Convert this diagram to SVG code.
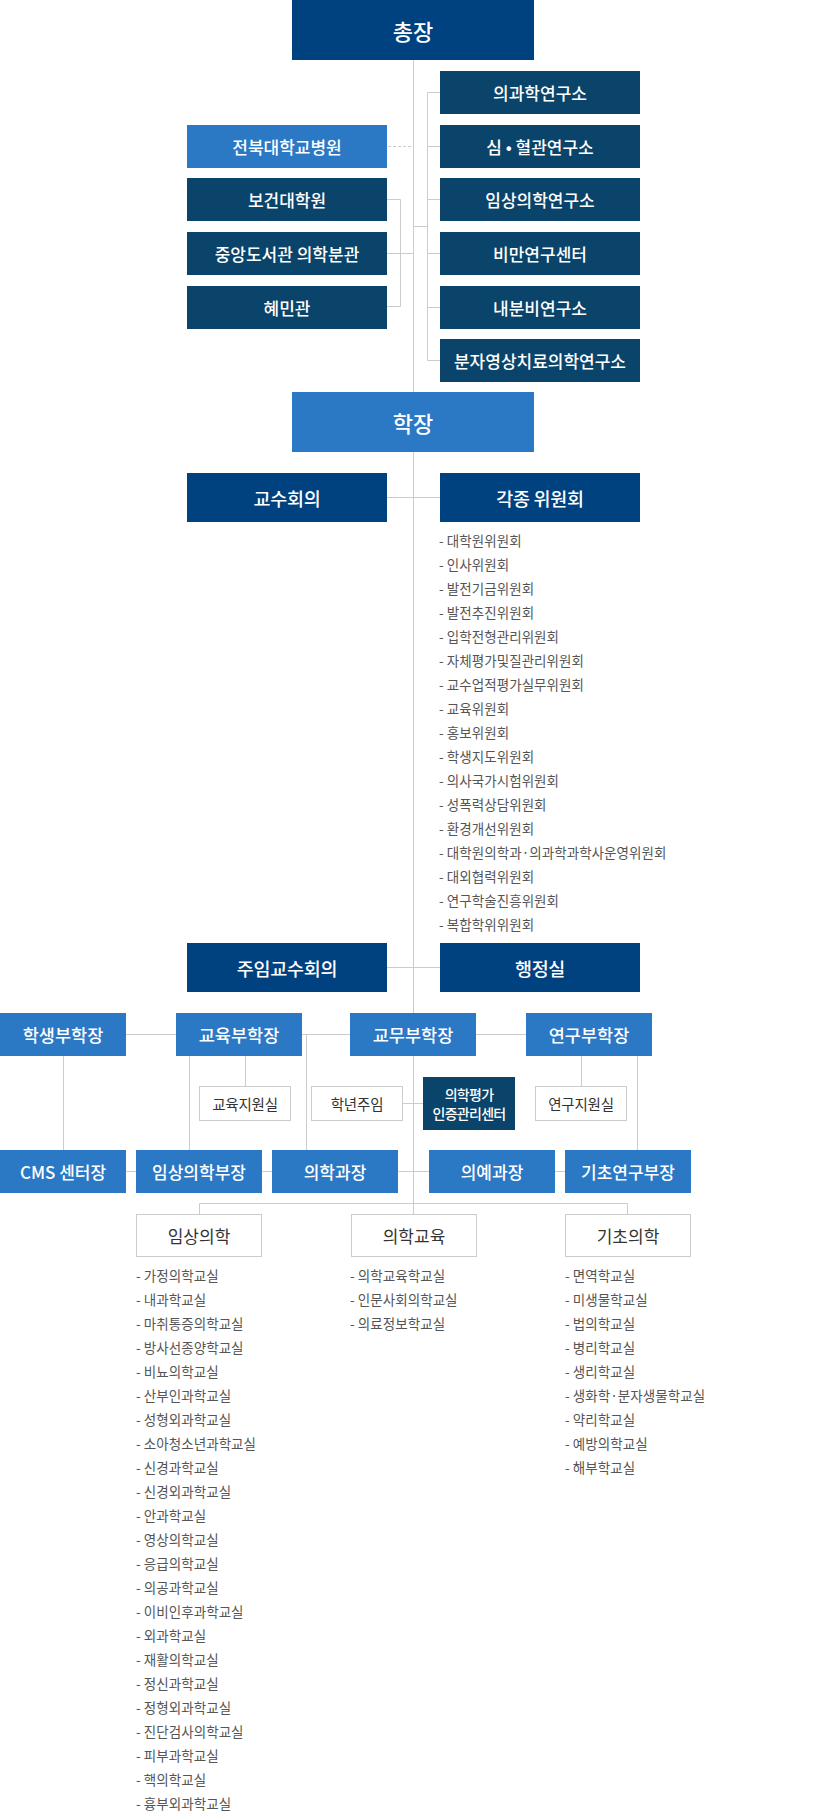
<svg xmlns="http://www.w3.org/2000/svg" width="827" height="1812" viewBox="0 0 827 1812">
<style>
text{font-family:"Noto Sans CJK KR","Noto Sans CJK SC",sans-serif;}
.c{fill:none;stroke:#cccccc;stroke-width:1;}
.d{fill:none;stroke:#cccccc;stroke-width:1;stroke-dasharray:3 2;}
.navy{fill:#00417f;}
.deep{fill:#0b446a;}
.blue{fill:#2b78c5;}
.wbox{fill:#ffffff;stroke:#cccccc;stroke-width:1;}
.t22{fill:#fff;font-size:22px;font-weight:500;text-anchor:middle;dominant-baseline:central;}
.t18{fill:#fff;font-size:18.5px;font-weight:500;text-anchor:middle;dominant-baseline:central;letter-spacing:-0.3px;}
.t17{fill:#fff;font-size:17px;font-weight:500;text-anchor:middle;dominant-baseline:central;}
.t16{fill:#fff;font-size:17.5px;font-weight:500;text-anchor:middle;dominant-baseline:central;}
.t14w{fill:#fff;font-size:14px;font-weight:500;text-anchor:middle;dominant-baseline:central;letter-spacing:-0.7px;}
.t14{fill:#333;font-size:14.5px;text-anchor:middle;dominant-baseline:central;letter-spacing:-0.2px;}
.t16d{fill:#333;font-size:17px;text-anchor:middle;dominant-baseline:central;}
.li{fill:#555;font-size:13.5px;letter-spacing:0.05px;}
</style>

<g id="connectors">
<path class="c" d="M413.5 60V1214"/>
<path class="c" d="M413.5 226.5H427.5M427.5 92.5V360.5M427.5 92.5H440M427.5 146.5H440M427.5 199.5H440M427.5 253.5H440M427.5 307.5H440M427.5 360.5H440"/>
<path class="c" d="M387 199.5H400.5V306.5H387M387 253.5H400.5M400.5 253.5H413.5"/>
<path class="d" d="M388 146.5H413"/>
<path class="c" d="M387 497.5H440"/>
<path class="c" d="M387 967.5H440"/>
<path class="c" d="M126 1034.5H526"/>
<path class="c" d="M63.5 1056V1150M189.5 1056V1150M245.5 1056V1086M306.5 1034.5V1150M581.5 1056V1086M637.5 1056V1150"/>
<path class="c" d="M402 1103.5H423"/>
<path class="c" d="M126 1171.5H565"/>
<path class="c" d="M199.5 1214V1203.5H627.5V1214"/>
</g>

<g id="president"><rect class="navy" x="292" y="0" width="242" height="60"/><text class="t22" x="413" y="30">총장</text></g>

<g id="inst1"><rect class="deep" x="440" y="71" width="200" height="43"/><text class="t17" x="540" y="92.5">의과학연구소</text></g>
<g id="inst2"><rect class="deep" x="440" y="125" width="200" height="43"/><text class="t17" x="540" y="146.5">심 • 혈관연구소</text></g>
<g id="inst3"><rect class="deep" x="440" y="178" width="200" height="43"/><text class="t17" x="540" y="199.5">임상의학연구소</text></g>
<g id="inst4"><rect class="deep" x="440" y="232" width="200" height="43"/><text class="t17" x="540" y="253.5">비만연구센터</text></g>
<g id="inst5"><rect class="deep" x="440" y="286" width="200" height="43"/><text class="t17" x="540" y="307.5">내분비연구소</text></g>
<g id="inst6"><rect class="deep" x="440" y="339" width="200" height="43"/><text class="t17" x="540" y="360.5">분자영상치료의학연구소</text></g>

<g id="hospital"><rect class="blue" x="187" y="125" width="200" height="43"/><text class="t17" x="287" y="146.5">전북대학교병원</text></g>
<g id="gradschool"><rect class="deep" x="187" y="178" width="200" height="43"/><text class="t17" x="287" y="199.5">보건대학원</text></g>
<g id="library"><rect class="deep" x="187" y="232" width="200" height="43"/><text class="t17" x="287" y="253.5">중앙도서관 의학분관</text></g>
<g id="hyemin"><rect class="deep" x="187" y="286" width="200" height="43"/><text class="t17" x="287" y="307.5">혜민관</text></g>

<g id="dean"><rect class="blue" x="292" y="392" width="242" height="60"/><text class="t22" x="413" y="422">학장</text></g>

<g id="faculty"><rect class="navy" x="187" y="473" width="200" height="49"/><text class="t18" x="287" y="497.5">교수회의</text></g>
<g id="committees"><rect class="navy" x="440" y="473" width="200" height="49"/><text class="t18" x="540" y="497.5">각종 위원회</text></g>

<g id="committee-list">
<text class="li"><tspan x="439" y="546">- 대학원위원회</tspan><tspan x="439" dy="24">- 인사위원회</tspan><tspan x="439" dy="24">- 발전기금위원회</tspan><tspan x="439" dy="24">- 발전추진위원회</tspan><tspan x="439" dy="24">- 입학전형관리위원회</tspan><tspan x="439" dy="24">- 자체평가및질관리위원회</tspan><tspan x="439" dy="24">- 교수업적평가실무위원회</tspan><tspan x="439" dy="24">- 교육위원회</tspan><tspan x="439" dy="24">- 홍보위원회</tspan><tspan x="439" dy="24">- 학생지도위원회</tspan><tspan x="439" dy="24">- 의사국가시험위원회</tspan><tspan x="439" dy="24">- 성폭력상담위원회</tspan><tspan x="439" dy="24">- 환경개선위원회</tspan><tspan x="439" dy="24">- 대학원의학과·의과학과학사운영위원회</tspan><tspan x="439" dy="24">- 대외협력위원회</tspan><tspan x="439" dy="24">- 연구학술진흥위원회</tspan><tspan x="439" dy="24">- 복합학위위원회</tspan></text>
</g>

<g id="chairs"><rect class="navy" x="187" y="943" width="200" height="49"/><text class="t18" x="287" y="967.5">주임교수회의</text></g>
<g id="admin"><rect class="navy" x="440" y="943" width="200" height="49"/><text class="t18" x="540" y="967.5">행정실</text></g>

<g id="vd-student"><rect class="blue" x="0" y="1013" width="126" height="43"/><text class="t16" x="63" y="1034.5">학생부학장</text></g>
<g id="vd-edu"><rect class="blue" x="176" y="1013" width="126" height="43"/><text class="t16" x="239" y="1034.5">교육부학장</text></g>
<g id="vd-acad"><rect class="blue" x="350" y="1013" width="126" height="43"/><text class="t16" x="413" y="1034.5">교무부학장</text></g>
<g id="vd-res"><rect class="blue" x="526" y="1013" width="126" height="43"/><text class="t16" x="589" y="1034.5">연구부학장</text></g>

<g id="edu-support"><rect class="wbox" x="199.5" y="1086.5" width="91" height="34"/><text class="t14" x="245" y="1103.5">교육지원실</text></g>
<g id="grade-head"><rect class="wbox" x="311.5" y="1086.5" width="91" height="34"/><text class="t14" x="357" y="1103.5">학년주임</text></g>
<g id="eval-center"><rect class="deep" x="423" y="1077" width="92" height="53"/><text class="t14w" x="469" y="1093.5">의학평가</text><text class="t14w" x="469" y="1113">인증관리센터</text></g>
<g id="res-support"><rect class="wbox" x="535.5" y="1086.5" width="91" height="34"/><text class="t14" x="581" y="1103.5">연구지원실</text></g>

<g id="cms"><rect class="blue" x="0" y="1150" width="126" height="43"/><text class="t17" x="63" y="1171.5">CMS 센터장</text></g>
<g id="clin-head"><rect class="blue" x="136" y="1150" width="126" height="43"/><text class="t17" x="199" y="1171.5">임상의학부장</text></g>
<g id="med-head"><rect class="blue" x="272" y="1150" width="126" height="43"/><text class="t17" x="335" y="1171.5">의학과장</text></g>
<g id="premed-head"><rect class="blue" x="429" y="1150" width="126" height="43"/><text class="t17" x="492" y="1171.5">의예과장</text></g>
<g id="basic-head"><rect class="blue" x="565" y="1150" width="126" height="43"/><text class="t17" x="628" y="1171.5">기초연구부장</text></g>

<g id="clinical"><rect class="wbox" x="136.5" y="1214.5" width="125" height="42"/><text class="t16d" x="199" y="1235.5">임상의학</text></g>
<g id="mededu"><rect class="wbox" x="351.5" y="1214.5" width="125" height="42"/><text class="t16d" x="414" y="1235.5">의학교육</text></g>
<g id="basic"><rect class="wbox" x="565.5" y="1214.5" width="125" height="42"/><text class="t16d" x="628" y="1235.5">기초의학</text></g>

<g id="clinical-list">
<text class="li"><tspan x="136" y="1281">- 가정의학교실</tspan><tspan x="136" dy="24">- 내과학교실</tspan><tspan x="136" dy="24">- 마취통증의학교실</tspan><tspan x="136" dy="24">- 방사선종양학교실</tspan><tspan x="136" dy="24">- 비뇨의학교실</tspan><tspan x="136" dy="24">- 산부인과학교실</tspan><tspan x="136" dy="24">- 성형외과학교실</tspan><tspan x="136" dy="24">- 소아청소년과학교실</tspan><tspan x="136" dy="24">- 신경과학교실</tspan><tspan x="136" dy="24">- 신경외과학교실</tspan><tspan x="136" dy="24">- 안과학교실</tspan><tspan x="136" dy="24">- 영상의학교실</tspan><tspan x="136" dy="24">- 응급의학교실</tspan><tspan x="136" dy="24">- 의공과학교실</tspan><tspan x="136" dy="24">- 이비인후과학교실</tspan><tspan x="136" dy="24">- 외과학교실</tspan><tspan x="136" dy="24">- 재활의학교실</tspan><tspan x="136" dy="24">- 정신과학교실</tspan><tspan x="136" dy="24">- 정형외과학교실</tspan><tspan x="136" dy="24">- 진단검사의학교실</tspan><tspan x="136" dy="24">- 피부과학교실</tspan><tspan x="136" dy="24">- 핵의학교실</tspan><tspan x="136" dy="24">- 흉부외과학교실</tspan></text>
</g>

<g id="mededu-list">
<text class="li"><tspan x="350" y="1281">- 의학교육학교실</tspan><tspan x="350" dy="24">- 인문사회의학교실</tspan><tspan x="350" dy="24">- 의료정보학교실</tspan></text>
</g>

<g id="basic-list">
<text class="li"><tspan x="565" y="1281">- 면역학교실</tspan><tspan x="565" dy="24">- 미생물학교실</tspan><tspan x="565" dy="24">- 법의학교실</tspan><tspan x="565" dy="24">- 병리학교실</tspan><tspan x="565" dy="24">- 생리학교실</tspan><tspan x="565" dy="24">- 생화학·분자생물학교실</tspan><tspan x="565" dy="24">- 약리학교실</tspan><tspan x="565" dy="24">- 예방의학교실</tspan><tspan x="565" dy="24">- 해부학교실</tspan></text>
</g>
</svg>
